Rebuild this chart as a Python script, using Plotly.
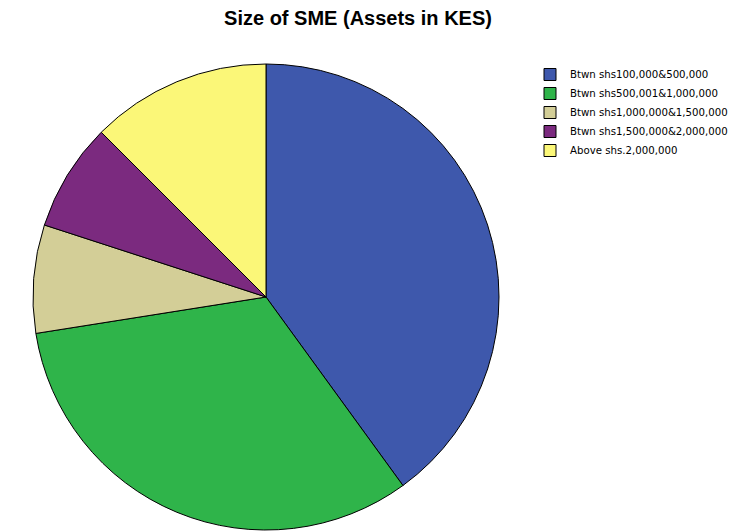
import plotly.graph_objects as go

# Number of SMEs in each asset-size band (KES)
categories = [
    "Btwn shs100,000&500,000",
    "Btwn shs500,001&1,000,000",
    "Btwn shs1,000,000&1,500,000",
    "Btwn shs1,500,000&2,000,000",
    "Above shs.2,000,000",
]
counts = [16, 13, 3, 3, 5]
colors = ["#3E58AC", "#2FB44A", "#D3CE97", "#7B2A7F", "#FBF778"]

W, H = 735, 531
cx, cy, r = 266, 297, 233  # pie centre and radius in pixels

fig = go.Figure(
    go.Pie(
        labels=categories,
        values=counts,
        sort=False,
        direction="clockwise",
        rotation=0,
        textinfo="none",
        marker=dict(colors=colors, line=dict(color="#000000", width=1)),
        domain=dict(
            x=[(cx - r) / W, (cx + r) / W],
            y=[(H - cy - r) / H, (H - cy + r) / H],
        ),
    )
)

fig.update_layout(
    width=W,
    height=H,
    margin=dict(l=0, r=0, t=0, b=0, autoexpand=False),
    paper_bgcolor="white",
    plot_bgcolor="white",
    title=dict(
        text="<b>Size of SME (Assets in KES)</b>",
        x=358 / W,
        xanchor="center",
        xref="paper",
        y=1 - 18 / H,
        yanchor="middle",
        yref="container",
        font=dict(family="Liberation Sans, Arial, sans-serif", size=20, color="#000000"),
    ),
    legend=dict(
        x=530 / W,
        y=1 - 60 / H,
        xanchor="left",
        yanchor="top",
        font=dict(family="DejaVu Sans, sans-serif", size=10.2, color="#000000"),
        bgcolor="rgba(0,0,0,0)",
        traceorder="normal",
    ),
)

fig.write_html("out.html")
